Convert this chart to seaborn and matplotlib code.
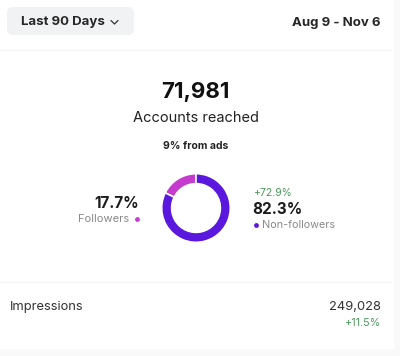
import matplotlib
matplotlib.use('Agg')
import matplotlib.pyplot as plt
import seaborn as sns
from matplotlib.patches import FancyBboxPatch, Rectangle

# data
period_label = 'Last 90 Days'
date_range = 'Aug 9 - Nov 6'
reach_total = '71,981'
reach_label = 'Accounts reached'
ads_share = '9% from ads'
segments = ['Followers', 'Non-followers']
shares = [17.7, 82.3]
seg_colors = ['#c43bcd', '#5a18df']
nonfollower_change = '+72.9%'
impressions_label = 'Impressions'
impressions_value = '249,028'
impressions_change = '+11.5%'

sns.set_theme(style='white')
plt.rcParams['font.family'] = ['Inter', 'DejaVu Sans']

fig = plt.figure(figsize=(4, 3.56), dpi=100)
fig.patch.set_facecolor('white')

# full canvas axes in pixel coordinates
ax = fig.add_axes([0, 0, 1, 1])
ax.set_xlim(0, 400)
ax.set_ylim(356, 0)
ax.axis('off')

# faint separators / card edges
light = '#f9f9fa'
ax.add_patch(Rectangle((0, 49), 392, 3, color=light, lw=0))
ax.add_patch(Rectangle((0, 281), 392, 3, color=light, lw=0))
ax.add_patch(Rectangle((0, 349), 400, 7, color=light, lw=0))
ax.add_patch(Rectangle((394, 0), 6, 356, color=light, lw=0))

# period dropdown
ax.add_patch(FancyBboxPatch((7, 7), 127, 28, boxstyle='round,pad=0,rounding_size=6',
                            fc='#f1f2f4', ec='none'))
ax.text(21, 22, period_label, fontsize=9.5, fontweight='bold', color='#262626', va='center')
ax.plot([111, 114.5, 118], [20.5, 24, 20.5], color='#333333', lw=0.9)
ax.text(381, 23, date_range, fontsize=9.5, fontweight='bold', color='#262626',
        va='center', ha='right')

# headline numbers
ax.text(195, 92.5, reach_total, fontsize=16, fontweight='bold', color='#111111',
        ha='center', va='center')
ax.text(196, 118.5, reach_label, fontsize=10.5, color='#222222', ha='center', va='center')
ax.text(196, 146, ads_share, fontsize=7.5, fontweight='bold', color='#222222',
        ha='center', va='center')

# donut
dax = fig.add_axes([161 / 400, 1 - 243 / 356, 70 / 400, 70 / 356])
dax.pie(shares, colors=seg_colors, startangle=90, counterclock=True,
        wedgeprops=dict(width=0.29, edgecolor='white', linewidth=1.2))
dax.set_xlim(-1.02, 1.02)
dax.set_ylim(-1.02, 1.02)
dax.axis('off')

# followers side
ax.text(139, 204, f'{shares[0]}%', fontsize=11, fontweight='bold', color='#1c1c1c',
        ha='right', va='center')
ax.text(129, 219, segments[0], fontsize=8, color='#8a8a8a', ha='right', va='center')
ax.scatter([137], [219], s=12, color=seg_colors[0], lw=0)

# non-followers side
ax.text(253, 193, nonfollower_change, fontsize=7.5, color='#4c9a5c', ha='left', va='center')
ax.text(252, 209, f'{shares[1]}%', fontsize=11, fontweight='bold', color='#1c1c1c',
        ha='left', va='center')
ax.scatter([256], [225], s=12, color=seg_colors[1], lw=0)
ax.text(262, 225, segments[1], fontsize=7.8, color='#8a8a8a', ha='left', va='center')

# impressions row
ax.text(10, 307, impressions_label, fontsize=9.3, color='#333333', va='center')
ax.text(381, 307, impressions_value, fontsize=9.3, color='#333333', ha='right', va='center')
ax.text(381, 323, impressions_change, fontsize=7.8, color='#4c9a5c', ha='right', va='center')

fig.savefig('out.png', dpi=100, facecolor='white')
